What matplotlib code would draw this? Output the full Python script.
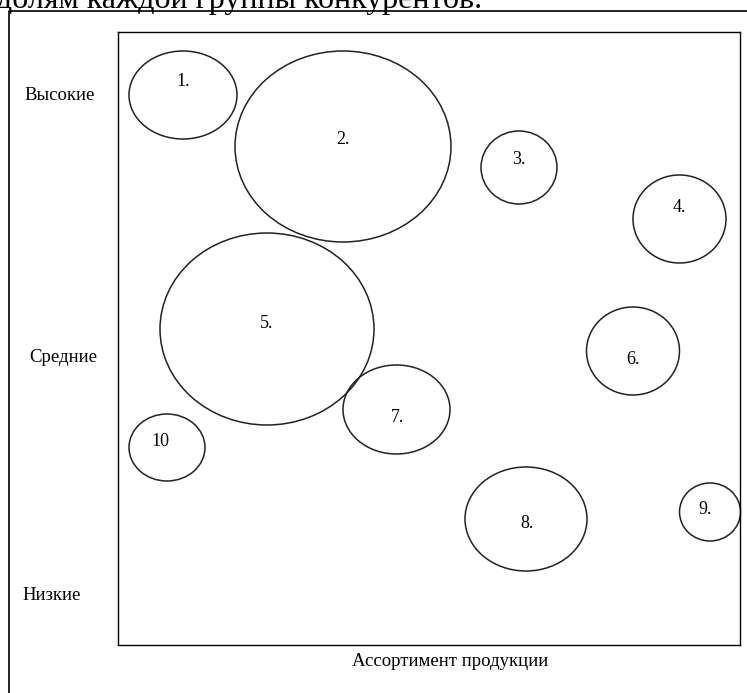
import matplotlib.pyplot as plt
from matplotlib.patches import Ellipse

plt.rcParams['font.family'] = ['Liberation Serif', 'DejaVu Serif']

# competitor groups: label, centre (x, y), width, height (in box units, y down)
labels = ['1.', '2.', '3.', '4.', '5.', '6.', '7.', '8.', '9.', '10']
cx = [65, 225, 401, 561.5, 149, 515, 278.5, 408, 592, 49]
cy = [63, 114.5, 135.5, 187, 297, 319, 377.5, 487, 480, 415.5]
widths = [108, 216, 76, 93, 214, 93, 107, 122, 61, 76]
heights = [88, 191, 73, 88, 192, 88, 89, 104, 58, 67]
# where the number sits inside each circle
lx = [65, 225, 401, 561, 149, 515, 279, 409, 587, 42]
ly = [50, 107, 128, 175, 291, 328, 386, 491, 478, 409]

price_levels = ['Высокие', 'Средние', 'Низкие']
price_y = [96, 357, 595]      # pixel rows in the picture
price_x = [60, 63, 52]
x_title = 'Ассортимент продукции'
caption = 'долям каждой группы конкурентов.'

W, H = 747, 693
fig = plt.figure(figsize=(W / 100, H / 100), dpi=100)

# background axes in pixel coordinates for the frame and outside text
bg = fig.add_axes([0, 0, 1, 1])
bg.set_xlim(0, W)
bg.set_ylim(H, 0)
bg.axis('off')
bg.plot([9, 9, W], [H, 11, 11], color='black', lw=1.2)
bg.text(-4, 8, caption, fontsize=23, va='baseline', ha='left')
for name, xx, yy in zip(price_levels, price_x, price_y):
    bg.text(xx, yy, name, fontsize=13.5, ha='center', va='center')
bg.text(450, 661, x_title, fontsize=13.5, ha='center', va='center')

# inner box
left, top, right, bottom = 118, 32, 740, 645
ax = fig.add_axes([left / W, 1 - bottom / H, (right - left) / W, (bottom - top) / H])
ax.set_xlim(0, right - left)
ax.set_ylim(bottom - top, 0)
ax.set_xticks([])
ax.set_yticks([])
for s in ax.spines.values():
    s.set_linewidth(1.0)
    s.set_color('black')

for i in range(len(labels)):
    e = Ellipse((cx[i], cy[i]), widths[i], heights[i], fill=False,
                edgecolor='#222222', lw=1.1, clip_on=False)
    ax.add_patch(e)
    ax.text(lx[i], ly[i], labels[i], fontsize=13, ha='center', va='center')

fig.savefig('out.png', dpi=100)
